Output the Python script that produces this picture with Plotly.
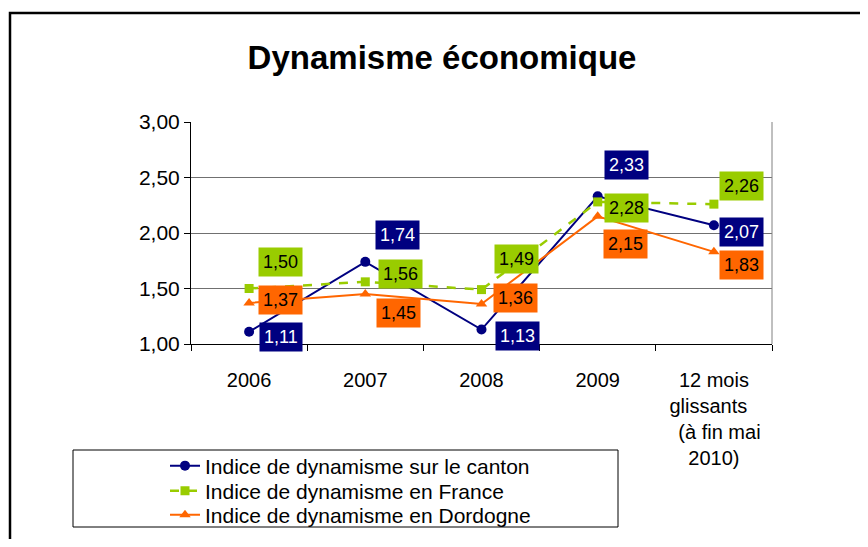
import plotly.graph_objects as go

categories = ["2006", "2007", "2008", "2009",
              "12 mois<br>glissants&nbsp;&nbsp;<br>&nbsp;&nbsp;(à fin mai<br>2010)"]
canton = [1.11, 1.74, 1.13, 2.33, 2.07]
france = [1.50, 1.56, 1.49, 2.28, 2.26]
dordogne = [1.37, 1.45, 1.36, 2.15, 1.83]
y_ticks = [1.0, 1.5, 2.0, 2.5, 3.0]

names = ["Indice de dynamisme sur le canton",
         "Indice de dynamisme en France",
         "Indice de dynamisme en Dordogne"]
colors = ["#000080", "#99CC00", "#FF6600"]
text_colors = ["white", "black", "black"]
series = [canton, france, dordogne]

# label offsets in pixels (xshift, yshift) for each series / point
offsets = [
    [(32, -5), (32, 27), (36, -6), (29, 31), (28, -7)],
    [(31, 27), (35, 8), (35, 31), (29, -6), (28, 18)],
    [(31, 3), (33, -19), (34, 6), (28, -28), (28, -13)],
]

FONT = "Liberation Sans, Arial, sans-serif"

fig = go.Figure()
fig.add_trace(go.Scatter(x=categories, y=canton, name=names[0], mode="lines+markers",
                         legend="legend",
                         line=dict(color=colors[0], width=2),
                         marker=dict(symbol="circle", size=10, color=colors[0])))
fig.add_trace(go.Scatter(x=categories, y=france, name=names[1], mode="lines+markers",
                         legend="legend2",
                         line=dict(color=colors[1], width=2.5, dash="dash"),
                         marker=dict(symbol="square", size=9, color=colors[1])))
fig.add_trace(go.Scatter(x=categories, y=dordogne, name=names[2], mode="lines+markers",
                         legend="legend3",
                         line=dict(color=colors[2], width=2),
                         marker=dict(symbol="triangle-up", size=10, color=colors[2])))

annotations = []
for s, vals in enumerate(series):
    for i, v in enumerate(vals):
        dx, dy = offsets[s][i]
        annotations.append(dict(
            x=i, y=v, xref="x", yref="y",
            text=f"{v:.2f}".replace(".", ","), showarrow=False,
            xshift=dx, yshift=dy,
            bgcolor=colors[s], borderpad=4,
            font=dict(family=FONT, size=18, color=text_colors[s]),
        ))

# page body has an 8px margin on every side: figure coords = screen coords - 8
OFF = 8
W, H = 868 - 2 * OFF, 547 - 2 * OFF
L, T = 191 - OFF, 122 - OFF
R = W - (772 - OFF)
B = H - (344 - OFF)
pw, ph = W - L - R, H - T - B

def px(xs):
    return (xs - OFF - L) / pw

def py(ys):
    return (H - B - (ys - OFF)) / ph

shapes = [
    # outer chart border (top and left visible)
    dict(type="rect", xref="paper", yref="paper", x0=px(10), x1=px(890),
         y0=py(580), y1=py(13), line=dict(color="black", width=2.5), layer="below"),
    # right border of plot area
    dict(type="line", xref="paper", yref="paper", x0=1, x1=1, y0=0, y1=1,
         line=dict(color="#808080", width=1)),
    # legend box
    dict(type="rect", xref="paper", yref="paper", x0=px(73), x1=px(618),
         y0=py(527), y1=py(450), line=dict(color="black", width=1)),
]

def legend_at(ys):
    return dict(x=px(165), y=py(ys), xanchor="left", yanchor="middle",
                bgcolor="rgba(0,0,0,0)", borderwidth=0,
                font=dict(family=FONT, size=21, color="black"))

fig.update_layout(
    width=W, height=H,
    margin=dict(l=L, r=R, t=T, b=B, pad=0, autoexpand=False),
    paper_bgcolor="white", plot_bgcolor="white",
    font=dict(family=FONT, size=20, color="black"),
    title=dict(text="<b>Dynamisme économique</b>", x=px(442), xref="paper",
               xanchor="center", y=1 - (57 - OFF) / H, yanchor="middle",
               font=dict(family=FONT, size=33, color="black")),
    showlegend=True,
    legend=legend_at(466),
    legend2=legend_at(491),
    legend3=legend_at(515),
    separators=",.",
    annotations=annotations,
    shapes=shapes,
)
fig.update_xaxes(type="category", showgrid=False, showline=True, linecolor="black",
                 linewidth=1, ticks="outside", tickson="boundaries", ticklen=6,
                 tickcolor="black", tickfont=dict(family=FONT, size=20),
                 ticklabelstandoff=18, range=[-0.5, 4.5], automargin=False)
fig.update_yaxes(range=[1, 3], tickvals=y_ticks, tickformat=".2f", showgrid=True,
                 gridcolor="#707070", gridwidth=1, showline=True, linecolor="black",
                 linewidth=1, ticks="outside", ticklen=6, tickcolor="black",
                 tickfont=dict(family=FONT, size=21), zeroline=False, automargin=False)

fig.write_html("out.html")
